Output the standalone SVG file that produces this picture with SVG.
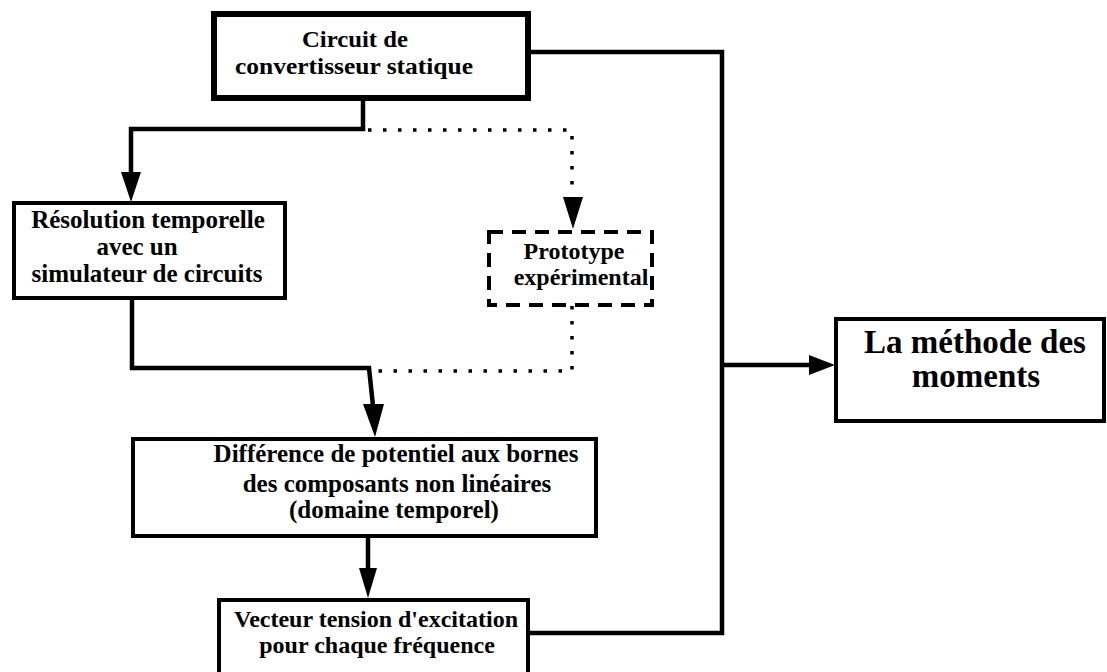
<svg xmlns="http://www.w3.org/2000/svg" width="1107" height="672" viewBox="0 0 1107 672">
<style>
.box{fill:#fff;stroke:#000;stroke-width:4}
.t{font-family:"Liberation Serif","Times New Roman",serif;font-weight:bold;fill:#000;text-anchor:middle}
.c{fill:none;stroke:#000;stroke-width:4.5;stroke-linejoin:miter}
.d{fill:none;stroke:#000;stroke-width:3.5;stroke-dasharray:3.5 11.5}
.ah{fill:#000}
</style>
<rect width="1107" height="672" fill="#fff"/>
<g id="connectors">
<path class="c" d="M363,99 V129 H131 V175"/>
<polygon class="ah" points="121,172 141,172 131,202"/>
<path class="d" d="M368,130 H572 V195"/>
<polygon class="ah" points="563,197 583,197 573,229"/>
<path class="c" d="M132,298 V368 H369 L373,406"/>
<polygon class="ah" points="363,404 384,404 375,437"/>
<path class="d" d="M572,306 V371 H375"/>
<path class="c" d="M368,537 V570"/>
<polygon class="ah" points="359,568 377,568 368,598"/>
<path class="c" d="M528,52 H722 V633 H529"/>
<path class="c" d="M722,365 H812"/>
<polygon class="ah" points="809,355 835,365 809,375"/>
</g>
<g id="n1">
<rect class="box" x="214" y="14" width="314" height="84" style="stroke-width:6"/>
<text class="t" font-size="23" x="355" y="47" textLength="106" lengthAdjust="spacingAndGlyphs">Circuit de</text>
<text class="t" font-size="23" x="354" y="74" textLength="238" lengthAdjust="spacingAndGlyphs">convertisseur statique</text>
</g>
<g id="n2">
<rect class="box" x="14" y="203" width="271" height="95"/>
<text class="t" font-size="25" x="148" y="228">Résolution temporelle</text>
<text class="t" font-size="25" x="137" y="255">avec un</text>
<text class="t" font-size="25" x="147" y="282">simulateur de circuits</text>
</g>
<g id="n3">
<rect class="box" x="489" y="232" width="163" height="73" style="stroke-dasharray:14 9"/>
<text class="t" font-size="24" x="574" y="259">Prototype</text>
<text class="t" font-size="24" x="581" y="285">expérimental</text>
</g>
<g id="n4">
<rect class="box" x="133" y="439" width="463" height="97"/>
<text class="t" font-size="25" x="396" y="462">Différence de potentiel aux bornes</text>
<text class="t" font-size="25" x="397" y="492">des composants non linéaires</text>
<text class="t" font-size="25" x="394" y="518">(domaine temporel)</text>
</g>
<g id="n5">
<rect class="box" x="219" y="600" width="309" height="90"/>
<text class="t" font-size="24" x="376" y="627">Vecteur tension d'excitation</text>
<text class="t" font-size="24" x="377" y="653">pour chaque fréquence</text>
</g>
<g id="n6">
<rect class="box" x="836" y="319" width="268" height="102"/>
<text class="t" font-size="33" x="975" y="353">La méthode des</text>
<text class="t" font-size="33" x="976" y="387">moments</text>
</g>
</svg>
